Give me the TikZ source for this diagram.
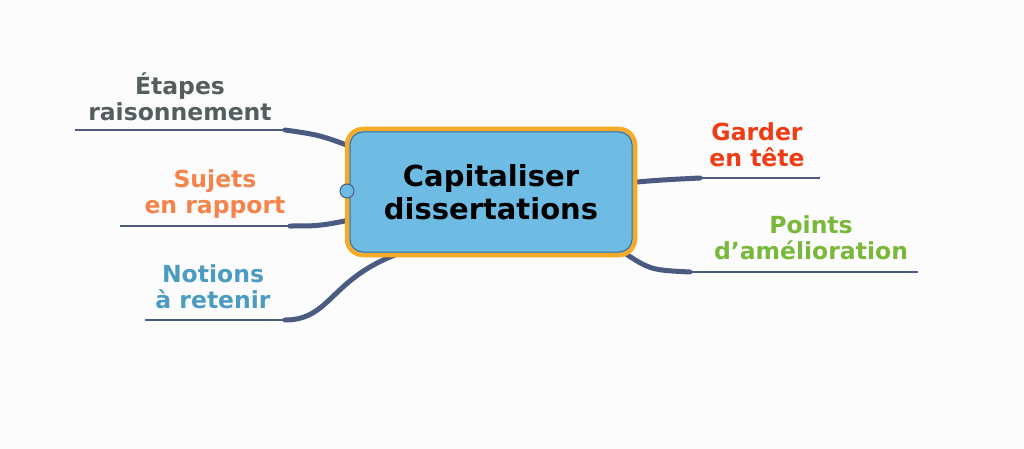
\documentclass[tikz,border=0pt]{standalone}
\usepackage{fontspec}
\setmainfont{DejaVu Sans}
\begin{document}
\begin{tikzpicture}[x=1pt,y=-1pt,
  br/.style={draw=brc,line width=5pt,line cap=round},
  ul/.style={draw=brc,line width=1.6pt},
  lbl/.style={font=\fontsize{23.5}{26}\selectfont\bfseries,align=center,inner sep=0pt}]
\definecolor{brc}{HTML}{4A5A80}
\definecolor{bg}{HTML}{FCFCFC}
\fill[bg] (0,0) rectangle (1024,449);
\useasboundingbox (0,0) rectangle (1024,449);
% branches
\coordinate (e1) at (285,130); \coordinate (e0) at (75,130);
\coordinate (s1) at (290,226); \coordinate (s0) at (120,226);
\coordinate (n1) at (285,320); \coordinate (n0) at (145,320);
\coordinate (g1) at (700,178); \coordinate (g0) at (820,178);
\coordinate (p1) at (690,272); \coordinate (p0) at (918,272);
\draw[br] (360,150) .. controls (320,135) .. (e1);
\draw[br] (360,218) .. controls (320,226) .. (s1);
\draw[br] (395,255) .. controls (330,280) and (330,320) .. (n1);
\draw[br] (625,183) .. controls (660,180) .. (g1);
\draw[br] (620,250) .. controls (650,270) .. (p1);
\draw[ul] (e0) -- (e1); \draw[ul] (s0) -- (s1); \draw[ul] (n0) -- (n1);
\draw[ul] (g1) -- (g0); \draw[ul] (p1) -- (p0);
% center
\node[draw={rgb,255:red,245;green,170;blue,40},line width=4.5pt,fill={rgb,255:red,110;green,188;blue,228},
  rounded corners=16pt,minimum width=288pt,minimum height=126pt,
  font=\fontsize{29}{33}\selectfont\bfseries,align=center] (c) at (491,192)
  {Capitaliser\\dissertations};
\draw[draw={rgb,255:red,60;green,110;blue,150},line width=1pt,rounded corners=13pt] (350,132) rectangle (632,252);
\node[circle,draw=brc,fill={rgb,255:red,110;green,188;blue,228},line width=1pt,inner sep=0pt,minimum size=14pt] (k) at (347,191) {};
% labels
\node[lbl,text={rgb,255:red,85;green,94;blue,94}] (te) at (180,97) {Étapes\\raisonnement};
\node[lbl,text={rgb,255:red,245;green,132;blue,76}] (ts) at (215,194) {Sujets\\en rapport};
\node[lbl,text={rgb,255:red,75;green,156;blue,192}] (tn) at (213,287) {Notions\\à retenir};
\node[lbl,text={rgb,255:red,240;green,60;blue,20}] (tg) at (757,145) {Garder\\en tête};
\node[lbl,text={rgb,255:red,122;green,184;blue,60}] (tp) at (811,238) {Points\\d\char"0027amélioration};
\end{tikzpicture}
\end{document}
